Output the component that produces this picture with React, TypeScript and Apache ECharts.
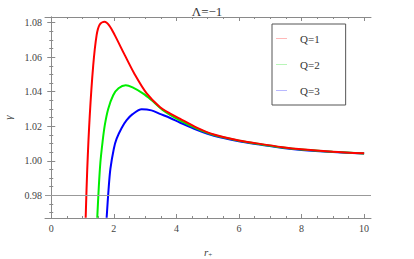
import React, { useEffect, useRef } from "react";
import * as echarts from "echarts";

const redQ1: [number, number][] = [
  [1.1, 0.967], [1.15, 0.995], [1.23, 1.026], [1.34, 1.055], [1.45, 1.0728], [1.55, 1.079],
  [1.7, 1.0806], [1.85, 1.0785], [2.03, 1.0728], [2.35, 1.0612], [2.67, 1.05], [3.05, 1.039],
  [3.47, 1.0312], [3.79, 1.0275], [4.11, 1.0244], [4.65, 1.0192], [5.2, 1.0152], [6.0, 1.0118],
  [6.67, 1.0098], [7.4, 1.0079], [8, 1.0067], [9, 1.0053], [10, 1.0043],
];
const greenQ2: [number, number][] = [
  [1.47, 0.967], [1.52, 0.985], [1.57, 0.999], [1.64, 1.011], [1.71, 1.0205], [1.82, 1.03],
  [1.98, 1.038], [2.15, 1.042], [2.38, 1.0438], [2.6, 1.0425], [2.94, 1.0389], [3.2, 1.0352],
  [3.58, 1.0292], [4.11, 1.0234], [4.65, 1.0187], [5.2, 1.0149], [6.0, 1.0116], [6.67, 1.0096],
  [7.4, 1.0077], [8, 1.0065], [9, 1.0052], [10, 1.0042],
];
const blueQ3: [number, number][] = [
  [1.77, 0.967], [1.83, 0.983], [1.89, 0.9953], [2.0, 1.007], [2.09, 1.0128], [2.25, 1.019],
  [2.41, 1.0235], [2.6, 1.027], [2.89, 1.0298], [3.2, 1.0292], [3.47, 1.0272], [3.8, 1.0248],
  [4.11, 1.0222], [4.65, 1.018], [5.2, 1.0145], [6.0, 1.0113], [6.67, 1.0094], [7.4, 1.0074],
  [8, 1.0063], [9, 1.0051], [10, 1.0042],
];
const seriesNames = ["Q=1", "Q=2", "Q=3"];
const xMajorTicks = [0, 2, 4, 6, 8, 10];
const xMinorTicks = [0, 0.5, 1, 1.5, 2, 2.5, 3, 3.5, 4, 4.5, 5, 5.5, 6, 6.5, 7, 7.5, 8, 8.5, 9, 9.5, 10];
const yMajorTicks = [0.98, 1.0, 1.02, 1.04, 1.06, 1.08];
const yMinorTicks = [
  0.97, 0.975, 0.98, 0.985, 0.99, 0.995, 1.0, 1.005, 1.01, 1.015, 1.02, 1.025, 1.03, 1.035,
  1.04, 1.045, 1.05, 1.055, 1.06, 1.065, 1.07, 1.075, 1.08,
];
const refLineY = 0.98;

const FRAME = "#8a8a8a";
const SERIF = "Times New Roman, Liberation Serif, DejaVu Serif, serif";
const X_MIN = -0.2;
const X_MAX = 10.22;
const Y_MIN = 0.96685;
const Y_MAX = 1.0833;

export default function App() {
  const ref = useRef<HTMLDivElement>(null);
  useEffect(() => {
    if (!ref.current) return;
    const chart = echarts.init(ref.current, undefined, { renderer: "svg" });
    const xBase = (position: string, minor: boolean, labels: boolean) => ({
      type: "value",
      position,
      min: X_MIN,
      max: X_MAX,
      splitLine: { show: false },
      axisLine: { show: !minor, lineStyle: { color: FRAME, width: 1 } },
      axisTick: {
        show: true,
        inside: true,
        length: minor ? 2 : 4,
        customValues: minor ? xMinorTicks : xMajorTicks,
        lineStyle: { color: FRAME, width: 1 },
      },
      axisLabel: labels
        ? {
            show: true,
            customValues: xMajorTicks,
            margin: 5,
            fontFamily: SERIF,
            fontSize: 10,
            color: "#444",
            formatter: (v: number) => String(v),
          }
        : { show: false },
    });
    const yBase = (position: string, minor: boolean, labels: boolean) => ({
      type: "value",
      position,
      min: Y_MIN,
      max: Y_MAX,
      splitLine: { show: false },
      axisLine: { show: !minor, lineStyle: { color: FRAME, width: 1 } },
      axisTick: {
        show: true,
        inside: true,
        length: minor ? 2 : 4,
        customValues: minor ? yMinorTicks : yMajorTicks,
        lineStyle: { color: FRAME, width: 1 },
      },
      axisLabel: labels
        ? {
            show: true,
            customValues: yMajorTicks,
            margin: 3,
            fontFamily: SERIF,
            fontSize: 10,
            color: "#444",
            formatter: (v: number) => v.toFixed(2),
          }
        : { show: false },
    });
    const xMain: any = xBase("bottom", false, true);
    xMain.name = "{i|r}{s|+}";
    xMain.nameLocation = "middle";
    xMain.nameGap = 28;
    xMain.nameTextStyle = {
      rich: {
        i: { fontFamily: SERIF, fontStyle: "italic", fontSize: 11, lineHeight: 12, color: "#444" },
        s: { fontFamily: SERIF, fontSize: 7, lineHeight: 12, color: "#444", verticalAlign: "bottom" },
      },
    };
    const yMain: any = yBase("left", false, true);
    yMain.name = "γ";
    yMain.nameLocation = "middle";
    yMain.nameGap = 26;
    yMain.nameTextStyle = { fontFamily: SERIF, fontStyle: "italic", fontSize: 11, color: "#444" };

    const colors = ["#ff0000", "#00ee00", "#0000ff"];
    const pale = ["#ffb8b8", "#b8f5b8", "#b8b8ff"];
    const datas = [redQ1, greenQ2, blueQ3];
    chart.setOption({
      animation: false,
      backgroundColor: "#ffffff",
      title: {
        text: "Λ=−1",
        left: "center",
        top: 0,
        textStyle: { fontFamily: SERIF, fontSize: 13, fontWeight: "normal", color: "#333" },
      },
      grid: { left: 45, right: 43, top: 17, bottom: 41, containLabel: false, outerBoundsMode: "none" },
      legend: {
        orient: "vertical",
        left: 272,
        top: 24,
        padding: [9, 26, 9, 4],
        itemGap: 15,
        itemWidth: 11,
        itemHeight: 1,
        icon: "rect",
        backgroundColor: "#ffffff",
        borderColor: "#555",
        borderWidth: 1,
        textStyle: { fontFamily: SERIF, fontSize: 11, color: "#333", padding: [0, 0, 0, 8] },
        data: seriesNames.map((n, i) => ({
          name: n,
          itemStyle: { color: pale[i], borderWidth: 0, opacity: 1 },
          lineStyle: { color: pale[i] },
        })),
      },
      xAxis: [xMain, xBase("bottom", true, false), xBase("top", false, false), xBase("top", true, false)],
      yAxis: [yMain, yBase("left", true, false), yBase("right", false, false), yBase("right", true, false)],
      series: datas.map((d, i) => ({
        name: seriesNames[i],
        type: "line",
        data: d,
        xAxisIndex: 0,
        yAxisIndex: 0,
        smooth: 0.3,
        symbol: "none",
        lineStyle: { color: colors[i], width: 2 },
        itemStyle: { color: colors[i] },
        z: 3 - i,
        markLine:
          i === 0
            ? {
                silent: true,
                symbol: ["none", "none"],
                label: { show: false },
                lineStyle: { color: "#999", type: "solid", width: 1 },
                data: [{ yAxis: refLineY }],
              }
            : undefined,
      })),
    });
    return () => chart.dispose();
  }, []);
  return <div ref={ref} style={{ position: "fixed", left: 0, top: 0, width: 414, height: 259 }} />;
}
